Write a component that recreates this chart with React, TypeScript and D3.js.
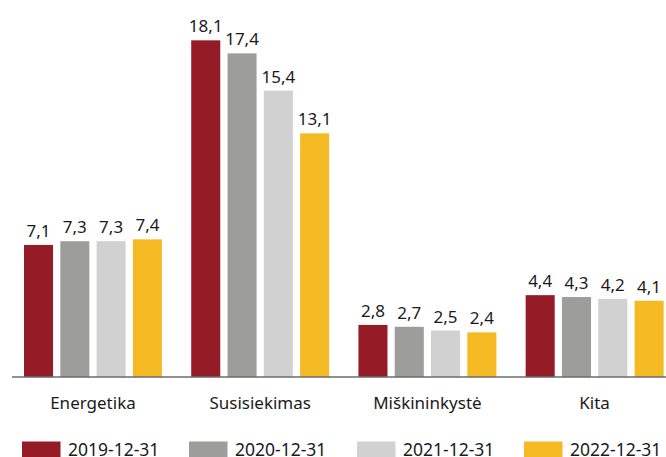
import React from "react";
import * as d3 from "d3";

const categories = ["Energetika", "Susisiekimas", "Miškininkystė", "Kita"];
const seriesNames = ["2019-12-31", "2020-12-31", "2021-12-31", "2022-12-31"];
const s2019 = [7.1, 18.1, 2.8, 4.4];
const s2020 = [7.3, 17.4, 2.7, 4.3];
const s2021 = [7.3, 15.4, 2.5, 4.2];
const s2022 = [7.4, 13.1, 2.4, 4.1];
const seriesValues = [s2019, s2020, s2021, s2022];
const colors = ["#951b26", "#9d9d9c", "#d1d1d1", "#f5b924"];

const W = 666;
const H = 457;
const FONT = "'Noto Sans', 'Open Sans', sans-serif";

export default function App() {
  const x0 = d3.scaleBand<string>().domain(categories).range([24, 663.6]).paddingInner(0.175).paddingOuter(0);
  const x1 = d3.scaleBand<string>().domain(seriesNames).range([0, x0.bandwidth()]).paddingInner(0.2).paddingOuter(0);
  const y = d3.scaleLinear().domain([0, 20]).range([377, 5]);
  const fmt = (v: number) => d3.format(".1f")(v).replace(".", ",");

  const legendSwatchX = [22, 189, 357, 524];

  return (
    <svg width={W} height={H} style={{ position: "absolute", left: 0, top: 0, display: "block" }} fontFamily={FONT}>
      <rect x={0} y={0} width={W} height={H} fill="#fff" />
      {categories.map((c, ci) => (
        <g key={c} transform={`translate(${x0(c)},0)`}>
          {seriesNames.map((s, si) => {
            const v = seriesValues[si][ci];
            const bx = x1(s)!;
            return (
              <g key={s}>
                <rect x={bx} y={y(v)} width={x1.bandwidth()} height={y(0) - y(v)} fill={colors[si]} />
                <text x={bx + x1.bandwidth() / 2} y={y(v) - 8} textAnchor="middle" fontSize={17} fill="#1a1a1a">
                  {fmt(v)}
                </text>
              </g>
            );
          })}
          <text x={x0.bandwidth() / 2} y={408.5} textAnchor="middle" fontSize={17} fill="#1a1a1a">
            {c}
          </text>
        </g>
      ))}
      <line x1={12} x2={666} y1={377} y2={377} stroke="#6b6b6b" strokeWidth={1.5} />
      {seriesNames.map((s, si) => (
        <g key={s} transform={`translate(${legendSwatchX[si]},0)`}>
          <rect x={0} y={441.5} width={38.5} height={16} fill={colors[si]} />
          <text x={46} y={455.5} fontSize={17.5} fill="#1a1a1a">
            {s}
          </text>
        </g>
      ))}
    </svg>
  );
}
